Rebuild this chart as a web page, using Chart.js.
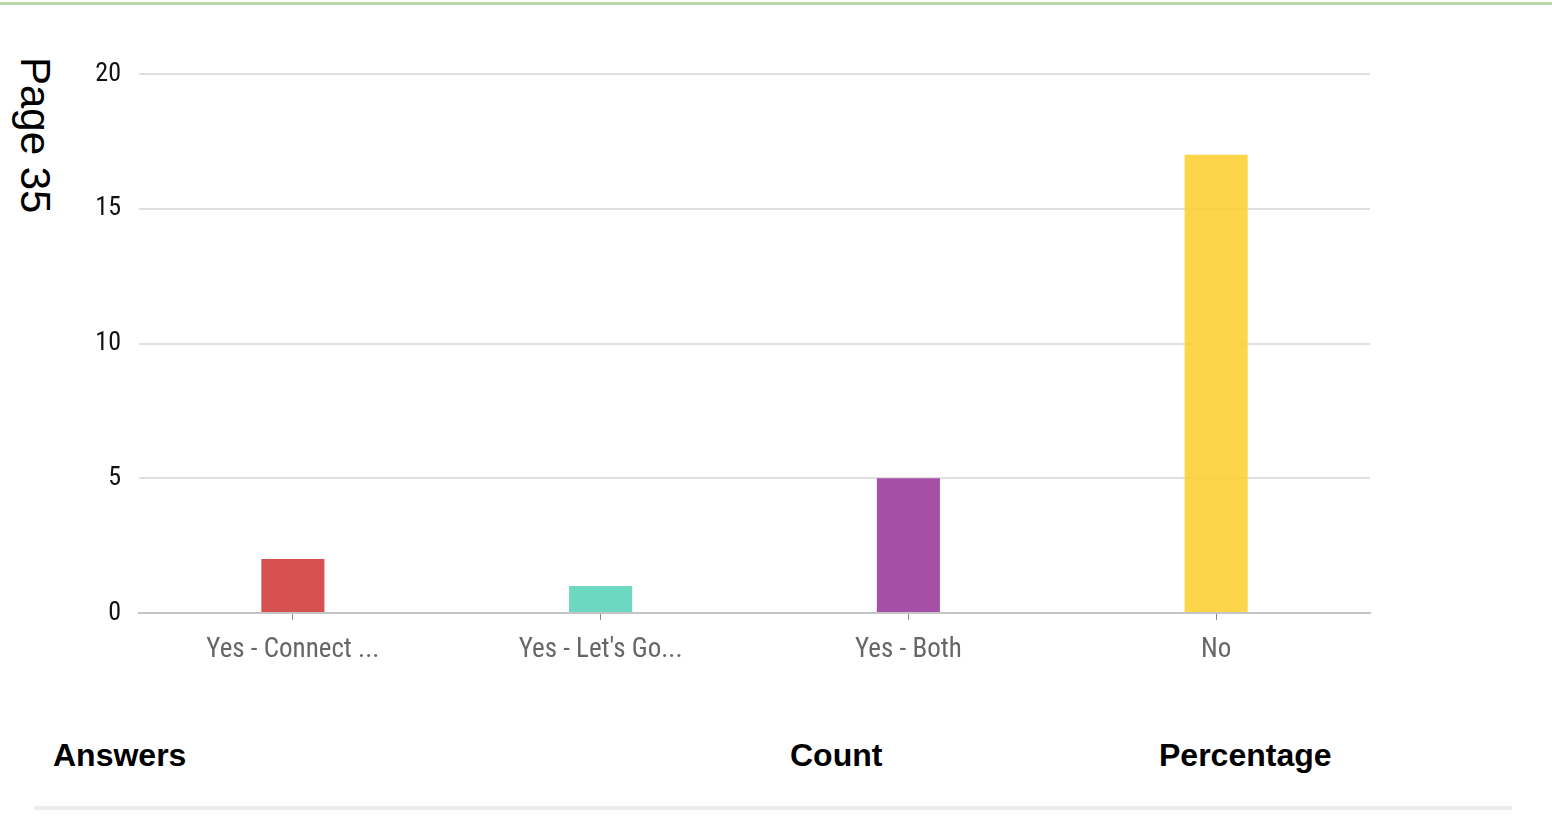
<!DOCTYPE html>
<html lang="en">
<head>
  <meta charset="UTF-8">
  <title>Page 35</title>
  <script src="https://cdn.jsdelivr.net/npm/chart.js"></script>
  <style>
    body {
      margin: 0;
      width: 1552px;
      height: 840px;
      background: #fff;
      position: relative;
      overflow: hidden;
      font-family: "Liberation Sans", Arial, sans-serif;
    }
    .topline {
      position: absolute;
      left: 0; top: 2px;
      width: 1552px; height: 3px;
      background: #b9d7ab;
    }
    .pagetitle {
      position: absolute;
      left: 11px; top: 57px;
      writing-mode: vertical-rl;
      font-size: 42px;
      color: #000;
    }
    #chartBox {
      position: absolute;
      left: 0; top: 0;
    }
    .hdr {
      position: absolute;
      top: 737px;
      font-weight: bold;
      font-size: 32px;
      color: #000;
    }
    .rule {
      position: absolute;
      left: 34px; top: 806px;
      width: 1478px; height: 4px;
      background: #ececec;
    }
  </style>
</head>
<body>
  <div class="topline"></div>
  <div class="pagetitle">Page 35</div>
  <canvas id="chartBox" width="1552" height="690"></canvas>
  <div class="hdr" style="left:53px">Answers</div>
  <div class="hdr" style="left:790px">Count</div>
  <div class="hdr" style="left:1159px">Percentage</div>
  <div class="rule"></div>

  <script>
    const answers = ["Yes - Connect ...", "Yes - Let's Go...", "Yes - Both", "No"];
    const counts = [2, 1, 5, 17];
    const barColors = [
      'rgba(210, 62, 62, 0.9)',
      'rgba(92, 212, 185, 0.9)',
      'rgba(155, 60, 157, 0.9)',
      'rgba(253, 208, 54, 0.9)'
    ];
    const yTicks = [0, 5, 10, 15, 20];

    const narrow = '"Liberation Sans Narrow", "Roboto Condensed", Roboto, sans-serif';

    new Chart(document.getElementById('chartBox'), {
      type: 'bar',
      data: {
        labels: answers,
        datasets: [{
          data: counts,
          backgroundColor: barColors,
          borderWidth: 0,
          barPercentage: 0.82,
          categoryPercentage: 0.25
        }]
      },
      options: {
        responsive: false,
        animation: false,
        layout: { padding: { top: 74, right: 182, left: 0, bottom: 0 } },
        plugins: {
          legend: { display: false },
          tooltip: { enabled: false }
        },
        scales: {
          x: {
            grid: {
              offset: false,
              drawOnChartArea: false,
              drawTicks: true,
              tickLength: 7,
              color: '#888'
            },
            border: { color: '#c4c4c4', width: 2 },
            ticks: {
              color: '#666',
              padding: 14,
              maxRotation: 0,
              font: { family: narrow, size: 27 }
            },
            afterFit: (axis) => { axis.height = 77; }
          },
          y: {
            min: 0,
            max: 20,
            afterBuildTicks: (axis) => {
              axis.ticks = yTicks.map(v => ({ value: v }));
            },
            grid: {
              color: '#e0e0e0',
              lineWidth: 2,
              drawTicks: false
            },
            border: { display: false },
            ticks: {
              color: '#111',
              padding: 18,
              font: { family: narrow, size: 26 }
            },
            afterFit: (axis) => { axis.width = 139; }
          }
        }
      }
    });
  </script>
</body>
</html>
